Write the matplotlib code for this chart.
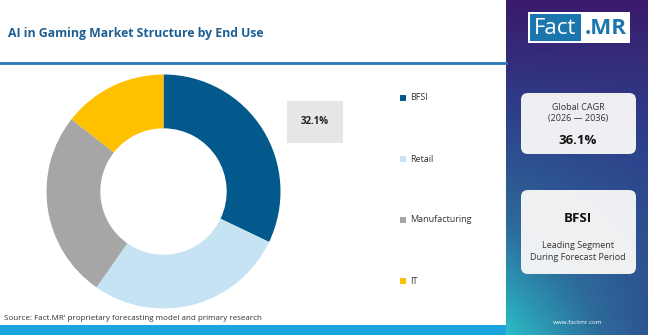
import matplotlib.pyplot as plt
import numpy as np
from matplotlib.patches import Rectangle, FancyBboxPatch
from matplotlib.colors import LinearSegmentedColormap

plt.rcParams['font.family'] = ['Open Sans', 'DejaVu Sans']

# Datos
categorias = ["BFSI", "Retail", "Manufacturing", "IT"]
valores = [32.1, 27.6, 25.9, 14.4]
colores = ["#03598c", "#c6e3f3", "#a6a6a6", "#ffc000"]
titulo = "AI in Gaming Market Structure by End Use"
fuente = "Source: Fact.MR' proprietary forecasting model and primary research"
cagr = "36.1%"
segmento = "BFSI"

W, H = 650, 335
fig = plt.figure(figsize=(6.5, 3.35), dpi=100)

# capa de fondo en pixeles
bg = fig.add_axes([0, 0, 1, 1])
bg.set_xlim(0, W)
bg.set_ylim(H, 0)
bg.axis('off')

# panel derecho con degradado (morado arriba, turquesa abajo a la izquierda)
yy, xx = np.mgrid[0:1:200j, 0:1:100j]
t = np.clip(yy * (1 - 0.5 * xx * yy), 0, 1)
cmap = LinearSegmentedColormap.from_list("panel", ["#3a1a6c", "#2e3f8a", "#2d6a9a", "#2bbdc6"])
bg.imshow(t, cmap=cmap, extent=(506, 648, H, 0), aspect='auto', zorder=0)

# titulo y linea
bg.text(8, 33, titulo, fontsize=8.8, fontweight='bold', color="#1d5f93", va='center', ha='left')
bg.plot([0, 506], [63, 63], color="#2a78b5", lw=2)

# barra inferior y fuente
bg.add_patch(Rectangle((0, 325), 506, 10, color="#1aa6dc", lw=0))
bg.text(4, 319, fuente, fontsize=5.8, color="#333333", va='center')

# logo
bg.add_patch(Rectangle((528, 12), 102, 31, color="white", lw=0))
bg.add_patch(Rectangle((530, 14), 51, 27, color="#1b76ad", lw=0))
bg.text(555, 28, "Fact", fontsize=16, color="white", ha='center', va='center')
bg.text(606, 28, ".MR", fontsize=16, color="#1b76ad", ha='center', va='center', fontweight='bold')

# tarjetas
for y0, h in [(93, 61), (190, 84)]:
    bg.add_patch(FancyBboxPatch((521, y0), 115, h, boxstyle="round,pad=0,rounding_size=7",
                                facecolor="#f7f7f7", edgecolor="none", alpha=0.96))
bg.text(578, 108, "Global CAGR", fontsize=6.5, color="#333333", ha='center', va='center')
bg.text(578, 119, "(2026 — 2036)", fontsize=6.5, color="#333333", ha='center', va='center')
bg.text(578, 140, cagr, fontsize=9.5, fontweight='bold', color="#111111", ha='center', va='center')
bg.text(578, 218, segmento, fontsize=9.5, fontweight='bold', color="#111111", ha='center', va='center')
bg.text(578, 246, "Leading Segment", fontsize=6.5, color="#333333", ha='center', va='center')
bg.text(578, 258, "During Forecast Period", fontsize=6.5, color="#333333", ha='center', va='center')
bg.text(578, 323, "www.factmr.com", fontsize=4.5, color="white", ha='center', va='center')

# etiqueta del valor principal
bg.add_patch(Rectangle((287, 101), 56, 42, color="#e6e6e6", lw=0))
bg.text(315, 122, f"{valores[0]}%", fontsize=7, fontweight='bold', color="#222222", ha='center', va='center')

# leyenda
for i, (c, col) in enumerate(zip(categorias, colores)):
    y = [98, 159, 220, 281][i]
    bg.add_patch(Rectangle((400, y - 3), 6, 6, color=col, lw=0))
    bg.text(410, y, c, fontsize=6.5, color="#333333", va='center')

# dona
cx, cy, r = 163.5, 191.5, 117
ax = fig.add_axes([(cx - 120) / W, (H - cy - 120) / H, 240 / W, 240 / H])
ax.pie(valores, colors=colores, startangle=90, counterclock=False,
       radius=117 / 120 * 1.2, wedgeprops=dict(width=0.46 * 1.17, linewidth=0))
ax.set_xlim(-1.2, 1.2)
ax.set_ylim(-1.2, 1.2)
ax.set_aspect('auto')
ax.axis('off')

fig.savefig("out.png", dpi=100)
